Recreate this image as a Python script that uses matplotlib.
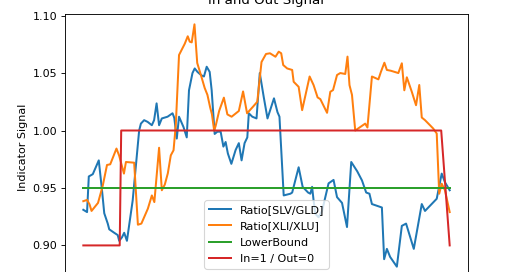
import numpy as np
import matplotlib
matplotlib.use("Agg")
import matplotlib.pyplot as plt

# session index (approx. trading days) and ratio values
slv_gld_t = [0, 1.5, 2.2, 3.8, 6.2, 7.5, 8.4, 9.8, 10.4, 12.4, 13.8, 14.4, 15.5, 16.4, 17.5,
             19.8, 22.4, 23.1, 24.4, 25.8, 27.5, 28.4, 29.4, 30.4, 31.5, 33.8, 35.8, 36.5,
             37.5, 38.4, 40.2, 41.5, 42.4, 43.8, 44.7, 45.8, 47.4, 48.4, 49.5, 50.7, 51.5,
             52.7, 53.8, 55.1, 56.2, 57.1, 58.0, 59.4, 61.1, 62.4, 63.5, 64.7, 65.8, 66.4,
             67.8, 69.5, 70.8, 72.4, 73.9, 76.5, 77.9, 78.7, 80.4, 83.1, 83.8, 86.4, 88.0,
             90.2, 91.1, 91.8, 92.4, 93.1, 94.4, 95.8, 98.4, 100.4, 101.8, 103.8, 105.8,
             107.5, 109.9, 111.8, 113.5, 114.8, 115.8, 119.8, 120.7, 121.8, 123.1, 125.8,
             127.8, 129.5, 132.6, 135.8, 137.1, 141.8, 143.8, 145.1, 147.0]
slv_gld = [0.931, 0.929, 0.960, 0.962, 0.974, 0.948, 0.928, 0.919, 0.914, 0.911, 0.909, 0.904,
           0.907, 0.911, 0.904, 0.939, 1.000, 1.006, 1.009, 1.0075, 1.0046, 1.009, 1.0236,
           1.0046, 1.0105, 1.012, 1.015, 1.011, 0.993, 1.012, 1.003, 0.994, 1.035, 1.050,
           1.054, 1.051, 1.048, 1.047, 1.0555, 1.051, 1.035, 0.997, 0.999, 0.999, 0.986,
           0.990, 0.980, 0.971, 0.983, 0.989, 0.974, 0.989, 0.994, 1.015, 1.012, 1.0105,
           1.050, 1.029, 1.0105, 1.028, 1.016, 1.012, 0.9435, 0.945, 0.946, 0.968, 0.951,
           0.946, 0.945, 0.951, 0.939, 0.9275, 0.9245, 0.930, 0.954, 0.957, 0.942, 0.937,
           0.916, 0.9726, 0.9645, 0.9566, 0.946, 0.945, 0.936, 0.933, 0.888, 0.897, 0.890,
           0.8815, 0.917, 0.919, 0.897, 0.936, 0.930, 0.9406, 0.9625, 0.955, 0.948]

xli_xlu_t = [0, 1.5, 2.5, 3.3, 5.9, 7.8, 9.5, 10.8, 13.3, 14.4, 16.3, 17.1, 20.4, 21.9, 23.3,
             25.9, 27.5, 28.5, 30.4, 31.5, 32.7, 33.9, 35.1, 36.2, 37.1, 38.4, 40.7, 41.9,
             42.7, 43.5, 44.6, 45.7, 47.3, 48.7, 49.8, 50.9, 51.6, 52.5, 53.1, 54.5, 56.4,
             57.8, 59.5, 62.4, 64.1, 65.7, 68.2, 69.8, 71.5, 73.3, 74.9, 77.1, 78.4, 79.4,
             80.2, 81.8, 83.8, 84.4, 86.4, 87.8, 90.8, 92.4, 94.0, 95.1, 97.8, 99.1, 100.2,
             101.8, 103.1, 105.1, 106.0, 106.8, 107.8, 109.1, 111.1, 113.1, 114.0, 115.8,
             118.4, 119.4, 120.8, 121.8, 123.4, 126.4, 127.8, 128.8, 129.8, 131.8, 133.5,
             134.8, 135.8, 137.1, 139.1, 140.4, 141.8, 142.8, 143.8, 145.1, 147.0]
xli_xlu = [0.9385, 0.9396, 0.9357, 0.930, 0.937, 0.952, 0.970, 0.9706, 0.9843, 0.978, 0.9625,
           0.9726, 0.972, 0.918, 0.919, 0.932, 0.9435, 0.9377, 0.985, 0.948, 0.953, 0.9627,
           0.9784, 0.9828, 1.0046, 1.0657, 1.0755, 1.082, 1.0773, 1.0767, 1.0924, 1.0588,
           1.0474, 1.037, 1.031, 1.020, 1.0142, 1.000, 1.004, 1.017, 1.0286, 1.014, 1.012,
           1.017, 1.034, 1.015, 1.021, 1.025, 1.0596, 1.0666, 1.0672, 1.0642, 1.0686, 1.0672,
           1.057, 1.054, 1.0527, 1.0424, 1.038, 1.0177, 1.047, 1.0395, 1.0288, 1.0273, 1.0154,
           1.0337, 1.0352, 1.0483, 1.050, 1.0492, 1.0643, 1.0395, 1.031, 1.000, 1.003, 1.006,
           1.0026, 1.047, 1.0445, 1.051, 1.059, 1.0527, 1.052, 1.050, 1.0585, 1.035, 1.0463,
           1.0337, 1.022, 1.0396, 1.0113, 1.009, 1.0046, 1.0017, 0.9974, 0.945, 0.9537, 0.948,
           0.929]

lower_bound = 0.95
signal_t = [0, 14.6, 15.2, 143.6, 147.0]
in_out = [0, 0, 1, 1, 0]

fig = plt.figure(figsize=(6.5, 3.4), dpi=80)
ax = fig.add_axes([0.125, -0.029, 0.775, 0.978])

lw = 1.8
ax.plot(slv_gld_t, slv_gld, lw=lw, label="Ratio[SLV/GLD]")
ax.plot(xli_xlu_t, xli_xlu, lw=lw, label="Ratio[XLI/XLU]")
ax.plot([slv_gld_t[0], slv_gld_t[-1]], [lower_bound, lower_bound], lw=lw, label="LowerBound")
ax.plot(signal_t, 0.9 + 0.1 * np.array(in_out), lw=lw, label="In=1 / Out=0")

ax.set_ylim(0.870, 1.1015)
ax.set_yticks([0.90, 0.95, 1.00, 1.05, 1.10])
# the date axis sits below the visible area
ax.tick_params(axis="x", bottom=False, labelbottom=False)
ax.set_title("In and Out Signal", pad=9)
ax.set_ylabel("Indicator Signal")
ax.legend(loc="upper center", bbox_to_anchor=(0.5, 0.299), borderaxespad=0,
          labelspacing=0.58)

fig.savefig("out.png", dpi=80)
